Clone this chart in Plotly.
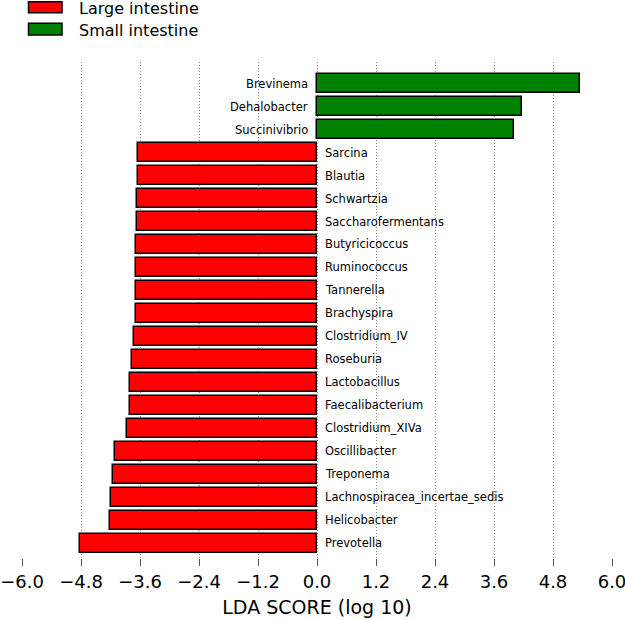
import plotly.graph_objects as go

# Data (top to bottom as shown)
taxa = ["Brevinema", "Dehalobacter", "Succinivibrio", "Sarcina", "Blautia",
        "Schwartzia", "Saccharofermentans", "Butyricicoccus", "Ruminococcus",
        "Tannerella", "Brachyspira", "Clostridium_IV", "Roseburia",
        "Lactobacillus", "Faecalibacterium", "Clostridium_XIVa", "Oscillibacter",
        "Treponema", "Lachnospiracea_incertae_sedis", "Helicobacter", "Prevotella"]
lda = [5.35, 4.17, 4.00, -3.64, -3.65, -3.66, -3.67, -3.68, -3.68, -3.68,
       -3.69, -3.72, -3.76, -3.80, -3.80, -3.87, -4.10, -4.15, -4.18, -4.21, -4.82]
groups = ["Small intestine"] * 3 + ["Large intestine"] * 18
group_names = ["Large intestine", "Small intestine"]
group_colors = {"Large intestine": "#ff0000", "Small intestine": "#008000"}
xticks = [-6.0, -4.8, -3.6, -2.4, -1.2, 0.0, 1.2, 2.4, 3.6, 4.8, 6.0]

W, H = 625, 620
ML, MR, MT, MB = 22, 13, 62, 62
PW, PH = W - ML - MR, H - MT - MB

n = len(taxa)
ypos = [n - 1 - i for i in range(n)]

fig = go.Figure()
for g in group_names:
    idx = [i for i in range(n) if groups[i] == g]
    fig.add_trace(go.Bar(
        x=[lda[i] for i in idx], y=[ypos[i] for i in idx], orientation="h",
        marker=dict(color=group_colors[g], line=dict(color="black", width=1.5)),
        width=0.84, name=g, showlegend=False, hoverinfo="x+text",
        text=[taxa[i] for i in idx], textposition="none"))

annotations = []
for i in range(n):
    neg = lda[i] < 0
    annotations.append(dict(
        x=0, y=ypos[i], xref="x", yref="y", text=taxa[i], showarrow=False,
        xanchor="left" if neg else "right", yanchor="middle",
        xshift=6 if neg else -7, font=dict(size=11.5, color="black")))

def px2paper_x(px):
    return (px - ML) / PW

def px2paper_y(py):
    return (H - MB - py) / PH

shapes = []
leg_rows = [("Large intestine", 1.7, 12.7), ("Small intestine", 23.3, 35.0)]
for name, y0, y1 in leg_rows:
    shapes.append(dict(type="rect", xref="paper", yref="paper",
                       x0=px2paper_x(28.5), x1=px2paper_x(62),
                       y0=px2paper_y(y1), y1=px2paper_y(y0),
                       fillcolor=group_colors[name], line=dict(color="black", width=1.5)))
    annotations.append(dict(x=px2paper_x(77), y=px2paper_y((y0 + y1) / 2 + 1.0),
                            xref="paper", yref="paper", text=name, showarrow=False,
                            xanchor="left", yanchor="middle",
                            font=dict(size=16, color="black")))

fig.update_layout(
    width=W, height=H, margin=dict(l=ML, r=MR, t=MT, b=MB, autoexpand=False),
    paper_bgcolor="white", plot_bgcolor="white",
    font=dict(family="DejaVu Sans", color="black"),
    bargap=0, annotations=annotations, shapes=shapes,
    xaxis=dict(range=[-6, 6], tickvals=xticks, tickformat=".1f",
               automargin=False, ticklabeloverflow="allow",
               showgrid=True, gridcolor="#888888", griddash="1px,2px", gridwidth=1,
               zeroline=False, showline=False, ticks="outside", ticklen=7,
               tickcolor="#555555", tickfont=dict(size=18),
               title=dict(text="LDA SCORE (log 10)", font=dict(size=19), standoff=10)),
    yaxis=dict(range=[-0.64, n - 1 + 0.94], showticklabels=False, showgrid=False,
               automargin=False,
               zeroline=False, showline=False, ticks=""),
)

fig.write_html("out.html", config={"displayModeBar": False},
               post_script="document.body.style.margin='0';document.body.style.overflow='hidden';")
